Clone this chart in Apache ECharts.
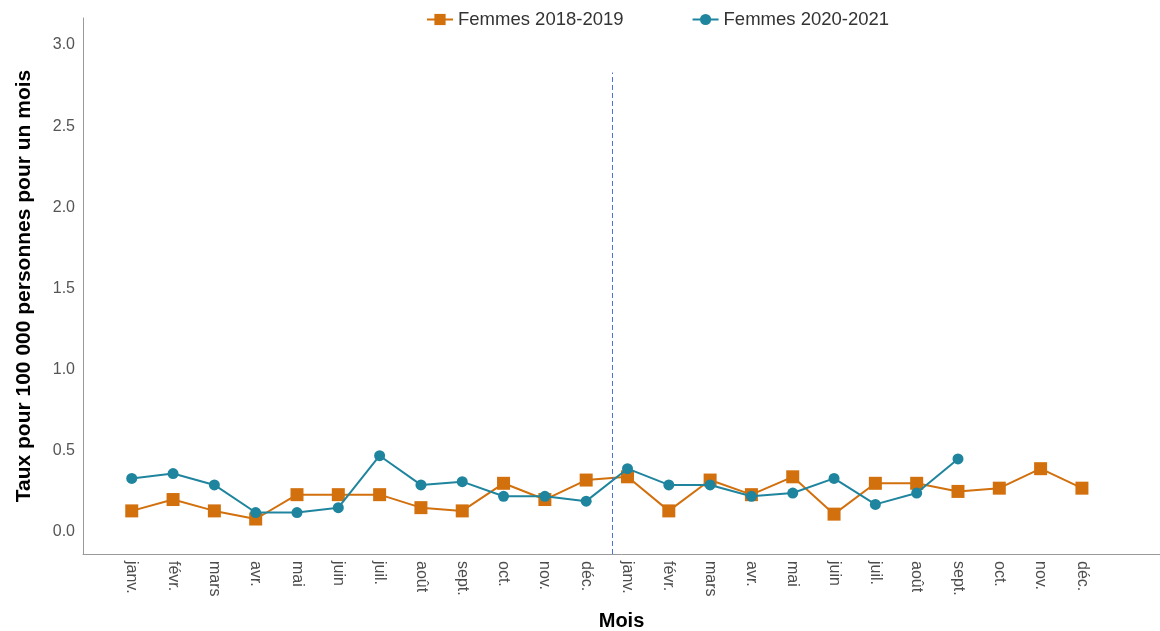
<!DOCTYPE html>
<html>
<head>
<meta charset="utf-8">
<script src="https://cdn.jsdelivr.net/npm/echarts@6/dist/echarts.min.js"></script>
<style>
html,body{margin:0;padding:0;background:#fff;}
#chart{width:1160px;height:631px;}
</style>
</head>
<body>
<div id="chart"></div>
<script>
const months = ["janv.","févr.","mars","avr.","mai","juin","juil.","août","sept.","oct.","nov.","déc.",
                "janv.","févr.","mars","avr.","mai","juin","juil.","août","sept.","oct.","nov.","déc."];
const femmes2018_2019 = [0.13,0.20,0.13,0.08,0.23,0.23,0.23,0.15,0.13,0.30,0.20,0.32,
                         0.34,0.13,0.32,0.23,0.34,0.11,0.30,0.30,0.25,0.27,0.39,0.27];
const femmes2020_2021 = [0.33,0.36,0.29,0.12,0.12,0.15,0.47,0.29,0.31,0.22,0.22,0.19,
                         0.39,0.29,0.29,0.22,0.24,0.33,0.17,0.24,0.45];
const yTicks = [0,0.5,1.0,1.5,2.0,2.5,3.0];
const seriesNames = ["Femmes 2018-2019","Femmes 2020-2021"];
const dividerX = 12.62;
const dividerTop = 2.83;

const xMin = -0.18, xMax = 25.89, yMin = -0.1355, yMax = 3.166;
const toPairs = arr => arr.map((v,i)=>[i+1,v]);
const xPositions = months.map((m,i)=>i+1);

const chart = echarts.init(document.getElementById('chart'));
chart.setOption({
  animation:false,
  textStyle:{fontFamily:'"Liberation Sans", Arial, sans-serif'},
  legend:{
    top:5, left:421, itemGap:68, itemWidth:26, itemHeight:14,
    textStyle:{fontSize:18.5,color:'#333'},
    data:seriesNames
  },
  grid:{left:83,right:0,top:18,bottom:77,containLabel:false,outerBoundsMode:'none'},
  xAxis:{
    type:'value', min:xMin, max:xMax,
    name:'Mois', nameLocation:'middle', nameGap:57,
    nameTextStyle:{fontSize:20,fontWeight:'bold',color:'#000'},
    axisLine:{show:true,onZero:false,lineStyle:{color:'#999',width:1}},
    axisTick:{show:false},
    splitLine:{show:false},
    axisLabel:{
      customValues:xPositions,
      rotate:-90, margin:7, fontSize:16, color:'#4d4d4d',
      formatter:v=>months[Math.round(v)-1]||''
    }
  },
  yAxis:{
    type:'value', min:yMin, max:yMax,
    name:'Taux pour 100 000 personnes pour un mois', nameLocation:'middle', nameGap:48,
    nameTextStyle:{fontSize:21,fontWeight:'bold',color:'#000'},
    axisLine:{show:true,onZero:false,lineStyle:{color:'#999',width:1}},
    axisTick:{show:false},
    splitLine:{show:false},
    axisLabel:{
      customValues:yTicks, margin:8, fontSize:16, color:'#555',
      padding:[4,0,0,0],
      formatter:v=>v.toFixed(1)
    }
  },
  series:[
    {
      name:seriesNames[0], type:'line', data:toPairs(femmes2018_2019),
      symbol:'rect', symbolSize:13,
      itemStyle:{color:'#D2700D'}, lineStyle:{width:2,color:'#D2700D'},
      z:2,
      markLine:{
        silent:true, symbol:'none', label:{show:false},
        lineStyle:{type:[5,3],color:'#4a72d4',width:1},
        data:[[{coord:[dividerX,yMin]},{coord:[dividerX,dividerTop]}]]
      }
    },
    {
      name:seriesNames[1], type:'line', data:toPairs(femmes2020_2021),
      symbol:'circle', symbolSize:11,
      itemStyle:{color:'#1F859E'}, lineStyle:{width:2,color:'#1F859E'},
      z:3
    }
  ]
});
</script>
</body>
</html>
